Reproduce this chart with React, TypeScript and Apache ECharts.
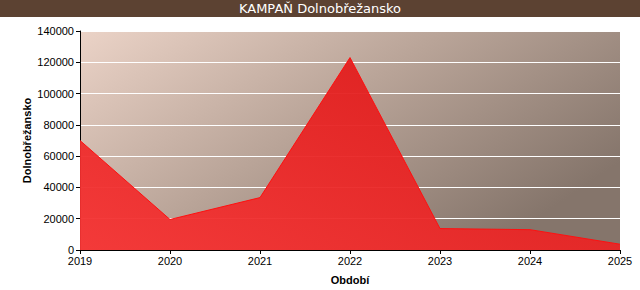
import React, { useEffect, useRef } from "react";
import * as echarts from "echarts";

const title = "KAMPAŇ Dolnobřežansko";
const categories = ["2019", "2020", "2021", "2022", "2023", "2024", "2025"];
const values = [70000, 19500, 33500, 123000, 13700, 13000, 3700];
const yAxisName = "Dolnobřežansko";
const xAxisName = "Období";

export default function App() {
  const ref = useRef<HTMLDivElement>(null);
  useEffect(() => {
    document.body.style.margin = "0";
    const chart = echarts.init(ref.current!, null, { renderer: "svg" });
    const font = "Liberation Sans";
    chart.setOption({
      animation: false,
      backgroundColor: "#ffffff",
      graphic: [
        {
          type: "rect",
          left: 0,
          top: 0,
          shape: { width: 640, height: 17 },
          style: { fill: "#5c4232" },
          z: 0,
        },
        {
          type: "text",
          left: "center",
          top: 2,
          style: {
            text: title,
            fill: "#ffffff",
            font: "13px 'DejaVu Sans'",
          },
          z: 1,
        },
      ],
      grid: {
        left: 80,
        right: 20,
        top: 31,
        bottom: 40,
        show: true,
        borderWidth: 0,
        backgroundColor: {
          type: "linear",
          x: 0,
          y: 0,
          x2: 1,
          y2: 0.6,
          colorStops: [
            { offset: 0, color: "#ebd3c7" },
            { offset: 0.5, color: "#b9a498" },
            { offset: 1, color: "#85756b" },
          ],
        },
      },
      xAxis: {
        type: "category",
        data: categories,
        boundaryGap: false,
        name: xAxisName,
        nameLocation: "middle",
        nameGap: 24,
        nameMoveOverlap: false,
        nameTextStyle: { fontFamily: font, fontSize: 11, fontWeight: "bold", color: "#000" },
        axisLine: { lineStyle: { color: "#000", width: 1 } },
        axisTick: { show: true, length: 4, lineStyle: { color: "#000" } },
        axisLabel: { fontFamily: font, fontSize: 11, color: "#000", margin: 5 },
        splitLine: { show: false },
      },
      yAxis: {
        type: "value",
        min: 0,
        max: 140000,
        interval: 20000,
        name: yAxisName,
        nameLocation: "middle",
        nameGap: 48,
        nameRotate: 90,
        nameMoveOverlap: false,
        nameTextStyle: { fontFamily: font, fontSize: 11, fontWeight: "bold", color: "#000" },
        axisLine: { show: true, lineStyle: { color: "#000", width: 1 } },
        axisTick: { show: true, length: 4, lineStyle: { color: "#000" } },
        axisLabel: {
          fontFamily: font,
          fontSize: 11,
          color: "#000",
          margin: 6,
          formatter: (v: number) => String(v),
        },
        splitLine: { show: true, lineStyle: { color: "#ffffff", width: 1 } },
      },
      series: [
        {
          type: "line",
          data: values,
          symbol: "none",
          lineStyle: { color: "#ff1010", width: 1 },
          areaStyle: {
            opacity: 0.95,
            color: {
              type: "linear",
              x: 0,
              y: 1,
              x2: 1,
              y2: 0,
              colorStops: [
                { offset: 0, color: "#f63434" },
                { offset: 1, color: "#dc1616" },
              ],
            },
          },
          z: 2,
        },
      ],
    });
    return () => chart.dispose();
  }, []);
  return (
    <div
      ref={ref}
      style={{ position: "absolute", left: 0, top: 0, width: 640, height: 290 }}
    />
  );
}
